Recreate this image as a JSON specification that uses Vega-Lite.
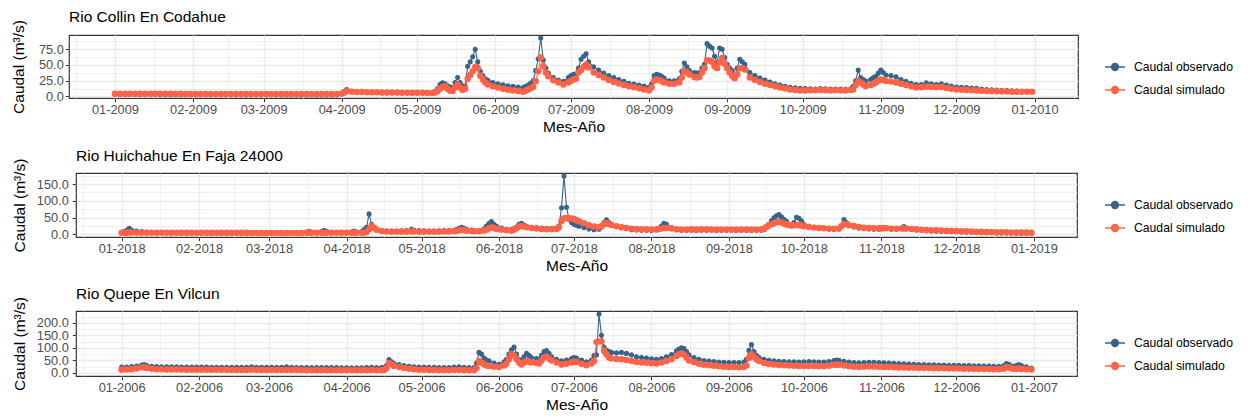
{
"$schema":"https://vega.github.io/schema/vega-lite/v6.json",
"background":"white",
"padding":{"left":4,"top":9,"right":0,"bottom":0},
"config":{
"font":"Liberation Sans",
"view":{"stroke":"#333333","strokeWidth":1.2},
"title":{"anchor":"start","frame":"group","fontSize":15.5,"fontWeight":"normal","color":"black","offset":-6},
"axis":{"domain":false,"labelFontSize":12.8,"labelColor":"#4D4D4D","tickColor":"#333333","tickSize":3.7,"tickWidth":1,"labelPadding":2,"gridColor":"#EBEBEB","titleFontSize":15.5,"titleFontWeight":"normal","titleColor":"black","labelOverlap":false,"labelFlush":false,"labelBound":false},
"legend":{"orient":"none","title":null,"labelFontSize":12.2,"labelColor":"black","symbolSize":400,"symbolStrokeWidth":1.3,"labelOffset":8,"rowPadding":5,"symbolType":"M-1,0H1M0.35,0A0.35,0.35,0,1,1,-0.35,0A0.35,0.35,0,1,1,0.35,0Z"},
"concat":{"spacing":11}
},
"datasets":{
"collin":[
{"t":"2009-01-01","obs":3.2,"sim":4.3},{"t":"2009-01-03","obs":3.1,"sim":4.3},{"t":"2009-01-05","obs":3.0,"sim":4.2},{"t":"2009-01-07","obs":3.0,"sim":4.2},{"t":"2009-01-09","obs":2.9,"sim":4.2},{"t":"2009-01-11","obs":2.9,"sim":4.1},{"t":"2009-01-13","obs":2.8,"sim":4.1},{"t":"2009-01-15","obs":2.8,"sim":4.1},{"t":"2009-01-17","obs":2.8,"sim":4.1},{"t":"2009-01-19","obs":2.7,"sim":4.0},{"t":"2009-01-21","obs":2.7,"sim":4.0},{"t":"2009-01-23","obs":2.7,"sim":4.0},{"t":"2009-01-25","obs":2.6,"sim":4.0},{"t":"2009-01-27","obs":2.6,"sim":4.0},{"t":"2009-01-29","obs":2.6,"sim":3.9},{"t":"2009-01-31","obs":2.6,"sim":3.9},
{"t":"2009-02-02","obs":2.6,"sim":3.9},{"t":"2009-02-04","obs":2.6,"sim":3.9},{"t":"2009-02-06","obs":2.5,"sim":3.9},{"t":"2009-02-08","obs":2.5,"sim":3.9},{"t":"2009-02-10","obs":2.5,"sim":3.9},{"t":"2009-02-12","obs":2.5,"sim":3.8},{"t":"2009-02-14","obs":2.5,"sim":3.8},{"t":"2009-02-16","obs":2.5,"sim":3.8},{"t":"2009-02-18","obs":2.4,"sim":3.8},{"t":"2009-02-20","obs":2.4,"sim":3.8},{"t":"2009-02-22","obs":2.4,"sim":3.8},{"t":"2009-02-24","obs":2.4,"sim":3.8},{"t":"2009-02-26","obs":2.4,"sim":3.8},{"t":"2009-02-28","obs":2.4,"sim":3.8},
{"t":"2009-03-02","obs":2.4,"sim":3.8},{"t":"2009-03-04","obs":2.4,"sim":3.8},{"t":"2009-03-06","obs":2.4,"sim":3.7},{"t":"2009-03-08","obs":2.4,"sim":3.7},{"t":"2009-03-10","obs":2.3,"sim":3.7},{"t":"2009-03-12","obs":2.3,"sim":3.7},{"t":"2009-03-14","obs":2.3,"sim":3.7},{"t":"2009-03-16","obs":2.3,"sim":3.7},{"t":"2009-03-18","obs":2.3,"sim":3.7},{"t":"2009-03-20","obs":2.3,"sim":3.7},{"t":"2009-03-22","obs":2.3,"sim":3.7},{"t":"2009-03-24","obs":2.3,"sim":3.7},{"t":"2009-03-26","obs":2.3,"sim":3.7},{"t":"2009-03-28","obs":2.3,"sim":3.7},{"t":"2009-03-30","obs":2.4,"sim":3.8},
{"t":"2009-04-01","obs":4,"sim":4.5},{"t":"2009-04-02","obs":8,"sim":6},{"t":"2009-04-03","obs":11,"sim":8},{"t":"2009-04-05","obs":8,"sim":7.5},{"t":"2009-04-07","obs":7,"sim":7},{"t":"2009-04-09","obs":6.8,"sim":6.8},{"t":"2009-04-11","obs":6.5,"sim":6.6},{"t":"2009-04-13","obs":6.3,"sim":6.5},{"t":"2009-04-15","obs":6.1,"sim":6.4},{"t":"2009-04-17","obs":6,"sim":6.3},{"t":"2009-04-19","obs":5.9,"sim":6.2},{"t":"2009-04-21","obs":5.8,"sim":6.1},{"t":"2009-04-23","obs":5.7,"sim":6},{"t":"2009-04-25","obs":5.6,"sim":5.9},{"t":"2009-04-27","obs":5.6,"sim":5.8},{"t":"2009-04-29","obs":5.5,"sim":5.8},
{"t":"2009-05-01","obs":5.5,"sim":5.7},{"t":"2009-05-03","obs":5.4,"sim":5.6},{"t":"2009-05-05","obs":5.3,"sim":5.5},{"t":"2009-05-07","obs":5.2,"sim":5.5},{"t":"2009-05-08","obs":8,"sim":6},{"t":"2009-05-09","obs":12,"sim":8},{"t":"2009-05-10","obs":19,"sim":12},{"t":"2009-05-11","obs":21.7,"sim":15},{"t":"2009-05-12","obs":20,"sim":16},{"t":"2009-05-13","obs":17,"sim":12},{"t":"2009-05-14","obs":15,"sim":9},{"t":"2009-05-15","obs":14,"sim":8.5},{"t":"2009-05-16","obs":22,"sim":14},{"t":"2009-05-17","obs":30,"sim":19},{"t":"2009-05-18","obs":22,"sim":14},{"t":"2009-05-19","obs":17,"sim":10},{"t":"2009-05-20","obs":16,"sim":12},{"t":"2009-05-21","obs":48,"sim":28},{"t":"2009-05-22","obs":55,"sim":34},{"t":"2009-05-23","obs":63,"sim":40},{"t":"2009-05-24","obs":75,"sim":47},{"t":"2009-05-25","obs":55,"sim":45},{"t":"2009-05-26","obs":40,"sim":33},{"t":"2009-05-27","obs":33,"sim":27},{"t":"2009-05-28","obs":28,"sim":22},{"t":"2009-05-29","obs":25.5,"sim":19},{"t":"2009-05-31","obs":22,"sim":16},
{"t":"2009-06-02","obs":20,"sim":14},{"t":"2009-06-04","obs":18.5,"sim":12},{"t":"2009-06-06","obs":17,"sim":10.5},{"t":"2009-06-08","obs":16,"sim":9.5},{"t":"2009-06-10","obs":15,"sim":8.5},{"t":"2009-06-12","obs":14,"sim":7.5},{"t":"2009-06-13","obs":16,"sim":9},{"t":"2009-06-14","obs":18,"sim":11},{"t":"2009-06-15","obs":21,"sim":13},{"t":"2009-06-16","obs":25,"sim":15},{"t":"2009-06-17","obs":41,"sim":24},{"t":"2009-06-18","obs":60,"sim":40},{"t":"2009-06-19","obs":93,"sim":62},{"t":"2009-06-20","obs":58,"sim":48},{"t":"2009-06-21","obs":45,"sim":38},{"t":"2009-06-22","obs":37,"sim":32},{"t":"2009-06-24","obs":30,"sim":25.5},{"t":"2009-06-26","obs":26,"sim":22},{"t":"2009-06-28","obs":24,"sim":19},{"t":"2009-06-30","obs":30,"sim":22},
{"t":"2009-07-01","obs":33,"sim":25},{"t":"2009-07-02","obs":35,"sim":27},{"t":"2009-07-03","obs":36,"sim":28},{"t":"2009-07-04","obs":45,"sim":38},{"t":"2009-07-05","obs":59,"sim":42},{"t":"2009-07-06","obs":64,"sim":47},{"t":"2009-07-07","obs":68,"sim":51},{"t":"2009-07-08","obs":55,"sim":46},{"t":"2009-07-10","obs":47,"sim":38},{"t":"2009-07-12","obs":42,"sim":34},{"t":"2009-07-14","obs":37,"sim":30},{"t":"2009-07-16","obs":33,"sim":26},{"t":"2009-07-18","obs":30,"sim":23},{"t":"2009-07-20","obs":27,"sim":20.5},{"t":"2009-07-22","obs":24,"sim":18},{"t":"2009-07-24","obs":21,"sim":16},{"t":"2009-07-26","obs":19.5,"sim":14.5},{"t":"2009-07-28","obs":18,"sim":13},{"t":"2009-07-30","obs":16.5,"sim":11},
{"t":"2009-08-01","obs":15,"sim":9.5},{"t":"2009-08-02","obs":20,"sim":14},{"t":"2009-08-03","obs":33,"sim":25},{"t":"2009-08-04","obs":35,"sim":27},{"t":"2009-08-05","obs":34,"sim":26},{"t":"2009-08-06","obs":32,"sim":24},{"t":"2009-08-07","obs":29,"sim":22},{"t":"2009-08-09","obs":25,"sim":20},{"t":"2009-08-11","obs":25,"sim":20},{"t":"2009-08-13","obs":28,"sim":22},{"t":"2009-08-14","obs":40,"sim":30},{"t":"2009-08-15","obs":53,"sim":40},{"t":"2009-08-16","obs":47,"sim":38},{"t":"2009-08-17","obs":41,"sim":35},{"t":"2009-08-19","obs":38,"sim":31},{"t":"2009-08-20","obs":37,"sim":30},{"t":"2009-08-21","obs":38,"sim":31},{"t":"2009-08-22","obs":45,"sim":38},{"t":"2009-08-23","obs":51,"sim":45},{"t":"2009-08-24","obs":84,"sim":57},{"t":"2009-08-25","obs":80,"sim":57},{"t":"2009-08-26","obs":77,"sim":55},{"t":"2009-08-27","obs":64,"sim":48},{"t":"2009-08-28","obs":54,"sim":45},{"t":"2009-08-29","obs":77,"sim":54},{"t":"2009-08-30","obs":75,"sim":61},{"t":"2009-08-31","obs":62,"sim":52},
{"t":"2009-09-01","obs":51,"sim":45},{"t":"2009-09-02","obs":45,"sim":38},{"t":"2009-09-03","obs":41,"sim":32},{"t":"2009-09-04","obs":33,"sim":29},{"t":"2009-09-05","obs":45,"sim":35},{"t":"2009-09-06","obs":59,"sim":45},{"t":"2009-09-07","obs":55,"sim":45},{"t":"2009-09-08","obs":51,"sim":43},{"t":"2009-09-10","obs":38,"sim":30},{"t":"2009-09-12","obs":33,"sim":26},{"t":"2009-09-14","obs":29,"sim":23},{"t":"2009-09-16","obs":26,"sim":20},{"t":"2009-09-18","obs":23,"sim":18},{"t":"2009-09-20","obs":20,"sim":16},{"t":"2009-09-22","obs":18,"sim":14},{"t":"2009-09-24","obs":16,"sim":12.5},{"t":"2009-09-26","obs":14.5,"sim":11},{"t":"2009-09-28","obs":13.5,"sim":10},{"t":"2009-09-30","obs":12.7,"sim":9.5},
{"t":"2009-10-02","obs":12.3,"sim":9.5},{"t":"2009-10-04","obs":12,"sim":9.8},{"t":"2009-10-06","obs":11.8,"sim":9.6},{"t":"2009-10-08","obs":12.5,"sim":10},{"t":"2009-10-10","obs":12,"sim":9.7},{"t":"2009-10-12","obs":11.5,"sim":9.4},{"t":"2009-10-14","obs":11.8,"sim":9.6},{"t":"2009-10-16","obs":11.5,"sim":9.5},{"t":"2009-10-18","obs":11.2,"sim":9.3},{"t":"2009-10-20","obs":12,"sim":10},{"t":"2009-10-21","obs":16,"sim":11},{"t":"2009-10-22","obs":25,"sim":18},{"t":"2009-10-23","obs":42,"sim":24},{"t":"2009-10-24","obs":30,"sim":22},{"t":"2009-10-25","obs":27,"sim":19},{"t":"2009-10-26","obs":24.4,"sim":16},{"t":"2009-10-28","obs":27,"sim":18},{"t":"2009-10-29","obs":30,"sim":20},{"t":"2009-10-30","obs":32,"sim":22},{"t":"2009-10-31","obs":37,"sim":25},
{"t":"2009-11-01","obs":42,"sim":27},{"t":"2009-11-02","obs":38,"sim":26},{"t":"2009-11-03","obs":34,"sim":24.4},{"t":"2009-11-05","obs":33,"sim":23.5},{"t":"2009-11-07","obs":31,"sim":22},{"t":"2009-11-09","obs":27,"sim":20},{"t":"2009-11-11","obs":24,"sim":18},{"t":"2009-11-13","obs":21,"sim":16},{"t":"2009-11-15","obs":19,"sim":14},{"t":"2009-11-17","obs":19,"sim":14.5},{"t":"2009-11-19","obs":21.7,"sim":15.5},{"t":"2009-11-21","obs":20,"sim":15},{"t":"2009-11-23","obs":19,"sim":14.5},{"t":"2009-11-25","obs":20,"sim":15},{"t":"2009-11-27","obs":18,"sim":13.5},{"t":"2009-11-29","obs":16.5,"sim":12},
{"t":"2009-12-01","obs":15,"sim":11},{"t":"2009-12-03","obs":14.5,"sim":10.5},{"t":"2009-12-05","obs":14,"sim":10},{"t":"2009-12-07","obs":13.3,"sim":9.7},{"t":"2009-12-09","obs":12.7,"sim":9.3},{"t":"2009-12-11","obs":11.5,"sim":8.8},{"t":"2009-12-13","obs":11,"sim":8.5},{"t":"2009-12-15","obs":10.5,"sim":8.3},{"t":"2009-12-17","obs":10,"sim":8},{"t":"2009-12-19","obs":9.5,"sim":7.8},{"t":"2009-12-21","obs":9.2,"sim":7.6},{"t":"2009-12-23","obs":8.8,"sim":7.5},{"t":"2009-12-25","obs":8.5,"sim":7.3},{"t":"2009-12-27","obs":8,"sim":7.4},{"t":"2009-12-29","obs":7.6,"sim":7.3},{"t":"2009-12-31","obs":7.4,"sim":7.4}
],
"huich":[
{"t":"2018-01-01","obs":3,"sim":4.8},{"t":"2018-01-02","obs":8,"sim":5},{"t":"2018-01-03","obs":12,"sim":5},{"t":"2018-01-04","obs":18,"sim":5.5},{"t":"2018-01-05","obs":13,"sim":5.2},{"t":"2018-01-07","obs":10,"sim":5},{"t":"2018-01-09","obs":8,"sim":4.9},{"t":"2018-01-11","obs":6.5,"sim":4.8},{"t":"2018-01-13","obs":5.5,"sim":4.7},{"t":"2018-01-15","obs":5,"sim":4.7},{"t":"2018-01-17","obs":4.6,"sim":4.6},{"t":"2018-01-19","obs":4.4,"sim":4.6},{"t":"2018-01-21","obs":4.2,"sim":4.6},{"t":"2018-01-23","obs":4,"sim":4.5},{"t":"2018-01-25","obs":3.9,"sim":4.5},{"t":"2018-01-27","obs":3.8,"sim":4.5},{"t":"2018-01-29","obs":3.7,"sim":4.5},{"t":"2018-01-31","obs":3.6,"sim":4.5},
{"t":"2018-02-02","obs":3.5,"sim":4.5},{"t":"2018-02-04","obs":3.5,"sim":4.5},{"t":"2018-02-06","obs":3.4,"sim":4.5},{"t":"2018-02-08","obs":3.4,"sim":4.4},{"t":"2018-02-10","obs":3.3,"sim":4.4},{"t":"2018-02-12","obs":3.3,"sim":4.4},{"t":"2018-02-14","obs":3.2,"sim":4.4},{"t":"2018-02-16","obs":3.2,"sim":4.4},{"t":"2018-02-18","obs":3.1,"sim":4.4},{"t":"2018-02-20","obs":3.1,"sim":4.4},{"t":"2018-02-22","obs":3.1,"sim":4.3},{"t":"2018-02-24","obs":3,"sim":4.3},{"t":"2018-02-26","obs":3,"sim":4.3},{"t":"2018-02-28","obs":3,"sim":4.3},
{"t":"2018-03-02","obs":3,"sim":4.3},{"t":"2018-03-04","obs":3,"sim":4.3},{"t":"2018-03-06","obs":2.9,"sim":4.3},{"t":"2018-03-08","obs":2.9,"sim":4.3},{"t":"2018-03-10","obs":2.9,"sim":4.3},{"t":"2018-03-12","obs":3,"sim":4.3},{"t":"2018-03-14","obs":3.5,"sim":4.3},{"t":"2018-03-16","obs":6,"sim":4.4},{"t":"2018-03-17","obs":9,"sim":4.5},{"t":"2018-03-18","obs":6,"sim":4.5},{"t":"2018-03-20","obs":5,"sim":4.4},{"t":"2018-03-22","obs":8,"sim":4.5},{"t":"2018-03-23","obs":12,"sim":4.7},{"t":"2018-03-24","obs":9,"sim":4.6},{"t":"2018-03-26","obs":6,"sim":4.5},{"t":"2018-03-28","obs":5,"sim":4.5},{"t":"2018-03-30","obs":4.5,"sim":4.5},
{"t":"2018-04-01","obs":4.5,"sim":4.5},{"t":"2018-04-03","obs":7,"sim":4.6},{"t":"2018-04-04","obs":10,"sim":4.8},{"t":"2018-04-05","obs":7,"sim":4.7},{"t":"2018-04-07","obs":8,"sim":4.8},{"t":"2018-04-08","obs":14,"sim":5},{"t":"2018-04-09","obs":21,"sim":7},{"t":"2018-04-10","obs":61,"sim":15},{"t":"2018-04-11","obs":30,"sim":25},{"t":"2018-04-12","obs":18,"sim":20},{"t":"2018-04-13","obs":13,"sim":14},{"t":"2018-04-15","obs":11,"sim":10},{"t":"2018-04-17","obs":10,"sim":8.5},{"t":"2018-04-19","obs":10,"sim":8},{"t":"2018-04-21","obs":10,"sim":8},{"t":"2018-04-23","obs":10.5,"sim":8},{"t":"2018-04-25","obs":11,"sim":8},{"t":"2018-04-27","obs":15,"sim":8.5},{"t":"2018-04-28","obs":12,"sim":8.5},{"t":"2018-04-30","obs":11,"sim":8},
{"t":"2018-05-02","obs":10.5,"sim":8},{"t":"2018-05-04","obs":10,"sim":8},{"t":"2018-05-06","obs":10,"sim":8},{"t":"2018-05-08","obs":10.5,"sim":8},{"t":"2018-05-10","obs":11,"sim":8.5},{"t":"2018-05-12","obs":11,"sim":8.5},{"t":"2018-05-14","obs":12,"sim":9},{"t":"2018-05-15","obs":14,"sim":10},{"t":"2018-05-16","obs":18,"sim":12},{"t":"2018-05-17","obs":21,"sim":13},{"t":"2018-05-18","obs":18,"sim":12.5},{"t":"2018-05-19","obs":15,"sim":11},{"t":"2018-05-21","obs":13,"sim":10},{"t":"2018-05-22","obs":12,"sim":9},{"t":"2018-05-24","obs":12,"sim":9.5},{"t":"2018-05-26","obs":16,"sim":11},{"t":"2018-05-27","obs":25,"sim":14},{"t":"2018-05-28","obs":33,"sim":18},{"t":"2018-05-29","obs":38,"sim":21},{"t":"2018-05-30","obs":30,"sim":19},{"t":"2018-05-31","obs":24,"sim":16},
{"t":"2018-06-02","obs":19,"sim":14},{"t":"2018-06-04","obs":15,"sim":12},{"t":"2018-06-06","obs":15,"sim":11},{"t":"2018-06-07","obs":17,"sim":14},{"t":"2018-06-08","obs":22,"sim":18},{"t":"2018-06-09","obs":30,"sim":23},{"t":"2018-06-10","obs":33,"sim":25},{"t":"2018-06-11","obs":28,"sim":23},{"t":"2018-06-12","obs":24,"sim":21},{"t":"2018-06-14","obs":21,"sim":19},{"t":"2018-06-16","obs":20,"sim":17},{"t":"2018-06-18","obs":19,"sim":16},{"t":"2018-06-20","obs":18,"sim":15},{"t":"2018-06-22","obs":18,"sim":15},{"t":"2018-06-24","obs":19,"sim":16},{"t":"2018-06-25","obs":25,"sim":21},{"t":"2018-06-26","obs":79,"sim":40},{"t":"2018-06-27","obs":174,"sim":48},{"t":"2018-06-28","obs":81,"sim":48},{"t":"2018-06-29","obs":45,"sim":48},{"t":"2018-06-30","obs":35,"sim":47},
{"t":"2018-07-01","obs":30,"sim":46},{"t":"2018-07-02","obs":27,"sim":42},{"t":"2018-07-03","obs":24,"sim":39},{"t":"2018-07-05","obs":20,"sim":33},{"t":"2018-07-07","obs":16,"sim":27},{"t":"2018-07-09","obs":14,"sim":23},{"t":"2018-07-11","obs":15,"sim":21},{"t":"2018-07-12","obs":22,"sim":24},{"t":"2018-07-13","obs":35,"sim":30},{"t":"2018-07-14","obs":43,"sim":34},{"t":"2018-07-15","obs":35,"sim":31},{"t":"2018-07-16","obs":28,"sim":28},{"t":"2018-07-18","obs":24,"sim":24},{"t":"2018-07-20","obs":20,"sim":21},{"t":"2018-07-22","obs":17,"sim":19},{"t":"2018-07-24","obs":14,"sim":17},{"t":"2018-07-26","obs":13,"sim":16},{"t":"2018-07-28","obs":12,"sim":15},{"t":"2018-07-30","obs":12,"sim":15},
{"t":"2018-08-01","obs":11.5,"sim":14.5},{"t":"2018-08-03","obs":13,"sim":15},{"t":"2018-08-04","obs":18,"sim":16},{"t":"2018-08-05","obs":25,"sim":17},{"t":"2018-08-06","obs":33,"sim":19},{"t":"2018-08-07","obs":30,"sim":19},{"t":"2018-08-09","obs":20,"sim":17},{"t":"2018-08-11","obs":14,"sim":15},{"t":"2018-08-13","obs":12,"sim":14.5},{"t":"2018-08-15","obs":12,"sim":14.5},{"t":"2018-08-17","obs":12,"sim":15},{"t":"2018-08-19","obs":11.5,"sim":14.5},{"t":"2018-08-21","obs":12,"sim":14.8},{"t":"2018-08-23","obs":12.5,"sim":15},{"t":"2018-08-25","obs":12,"sim":14.6},{"t":"2018-08-27","obs":11.5,"sim":14.5},{"t":"2018-08-29","obs":12,"sim":14.7},{"t":"2018-08-31","obs":12,"sim":14.5},
{"t":"2018-09-02","obs":12,"sim":14.5},{"t":"2018-09-04","obs":11.5,"sim":14.4},{"t":"2018-09-06","obs":12,"sim":14.6},{"t":"2018-09-08","obs":11.8,"sim":14.5},{"t":"2018-09-10","obs":11.5,"sim":14.4},{"t":"2018-09-12","obs":11.8,"sim":14.5},{"t":"2018-09-14","obs":12,"sim":15},{"t":"2018-09-15","obs":14,"sim":17},{"t":"2018-09-16","obs":20,"sim":22},{"t":"2018-09-17","obs":30,"sim":26},{"t":"2018-09-18","obs":40,"sim":30},{"t":"2018-09-19","obs":49,"sim":33},{"t":"2018-09-20","obs":55,"sim":36},{"t":"2018-09-21","obs":59,"sim":37},{"t":"2018-09-22","obs":52,"sim":35},{"t":"2018-09-23","obs":45,"sim":32},{"t":"2018-09-24","obs":39,"sim":29},{"t":"2018-09-25","obs":30,"sim":28},{"t":"2018-09-26","obs":25,"sim":27},{"t":"2018-09-27","obs":35,"sim":27},{"t":"2018-09-28","obs":51,"sim":28},{"t":"2018-09-29","obs":48,"sim":27},{"t":"2018-09-30","obs":40,"sim":26},
{"t":"2018-10-01","obs":29,"sim":24},{"t":"2018-10-03","obs":24,"sim":22},{"t":"2018-10-05","obs":21,"sim":20},{"t":"2018-10-07","obs":19,"sim":19},{"t":"2018-10-09","obs":17,"sim":18},{"t":"2018-10-11","obs":16,"sim":17},{"t":"2018-10-13","obs":15,"sim":16.5},{"t":"2018-10-15","obs":16,"sim":17},{"t":"2018-10-16","obs":25,"sim":24},{"t":"2018-10-17","obs":44,"sim":31},{"t":"2018-10-18","obs":35,"sim":30},{"t":"2018-10-19","obs":27,"sim":27},{"t":"2018-10-21","obs":22,"sim":25},{"t":"2018-10-23","obs":19,"sim":22},{"t":"2018-10-25","obs":17,"sim":20},{"t":"2018-10-27","obs":16,"sim":19},{"t":"2018-10-29","obs":15,"sim":18.5},{"t":"2018-10-31","obs":15,"sim":18},
{"t":"2018-11-01","obs":17,"sim":18},{"t":"2018-11-02","obs":21,"sim":18},{"t":"2018-11-03","obs":18,"sim":18},{"t":"2018-11-05","obs":15,"sim":17},{"t":"2018-11-07","obs":15,"sim":17},{"t":"2018-11-09","obs":18,"sim":17},{"t":"2018-11-10","obs":23,"sim":17.5},{"t":"2018-11-11","obs":19,"sim":17},{"t":"2018-11-13","obs":15,"sim":16},{"t":"2018-11-15","obs":13,"sim":15},{"t":"2018-11-17","obs":12,"sim":14},{"t":"2018-11-19","obs":11,"sim":13},{"t":"2018-11-21","obs":10,"sim":12.5},{"t":"2018-11-23","obs":9.5,"sim":12},{"t":"2018-11-25","obs":9,"sim":11.5},{"t":"2018-11-27","obs":8.5,"sim":11},{"t":"2018-11-29","obs":8,"sim":10.5},
{"t":"2018-12-01","obs":7.5,"sim":10},{"t":"2018-12-03","obs":7,"sim":9.5},{"t":"2018-12-05","obs":6.5,"sim":9},{"t":"2018-12-07","obs":6,"sim":8.5},{"t":"2018-12-09","obs":5.5,"sim":8},{"t":"2018-12-11","obs":5,"sim":7.5},{"t":"2018-12-13","obs":4.8,"sim":7},{"t":"2018-12-15","obs":4.5,"sim":6.8},{"t":"2018-12-17","obs":4.2,"sim":6.5},{"t":"2018-12-19","obs":4,"sim":6.2},{"t":"2018-12-21","obs":3.8,"sim":6},{"t":"2018-12-23","obs":3.6,"sim":5.8},{"t":"2018-12-25","obs":3.4,"sim":5.5},{"t":"2018-12-27","obs":3.2,"sim":5.3},{"t":"2018-12-29","obs":3.1,"sim":5.1},{"t":"2018-12-31","obs":3,"sim":5}
],
"quepe":[
{"t":"2006-01-01","obs":24,"sim":13},{"t":"2006-01-03","obs":24,"sim":14},{"t":"2006-01-05","obs":26,"sim":15},{"t":"2006-01-07","obs":28,"sim":18},{"t":"2006-01-09","obs":32,"sim":22},{"t":"2006-01-10","obs":34,"sim":24},{"t":"2006-01-11","obs":30,"sim":20},{"t":"2006-01-13","obs":27,"sim":17},{"t":"2006-01-15","obs":26,"sim":15},{"t":"2006-01-17","obs":25,"sim":14.5},{"t":"2006-01-19","obs":25,"sim":14},{"t":"2006-01-21","obs":24.5,"sim":14},{"t":"2006-01-23","obs":24.5,"sim":13.5},{"t":"2006-01-25","obs":24,"sim":13.5},{"t":"2006-01-27","obs":24,"sim":13},{"t":"2006-01-29","obs":24,"sim":13},{"t":"2006-01-31","obs":23.5,"sim":13},
{"t":"2006-02-02","obs":23.5,"sim":13},{"t":"2006-02-04","obs":23.5,"sim":12.8},{"t":"2006-02-06","obs":23,"sim":12.8},{"t":"2006-02-08","obs":23,"sim":12.6},{"t":"2006-02-10","obs":23,"sim":12.5},{"t":"2006-02-12","obs":23,"sim":12.5},{"t":"2006-02-14","obs":22.8,"sim":12.4},{"t":"2006-02-16","obs":22.8,"sim":12.3},{"t":"2006-02-18","obs":22.5,"sim":12.2},{"t":"2006-02-20","obs":22.5,"sim":12.2},{"t":"2006-02-22","obs":24.5,"sim":12.5},{"t":"2006-02-24","obs":23,"sim":12.2},{"t":"2006-02-26","obs":22.5,"sim":12},{"t":"2006-02-28","obs":22.5,"sim":12},
{"t":"2006-03-02","obs":22.3,"sim":11.8},{"t":"2006-03-04","obs":22.2,"sim":11.8},{"t":"2006-03-06","obs":23,"sim":11.8},{"t":"2006-03-08","obs":24.5,"sim":12},{"t":"2006-03-10","obs":22.5,"sim":11.6},{"t":"2006-03-12","obs":22,"sim":11.5},{"t":"2006-03-14","obs":22,"sim":11.4},{"t":"2006-03-16","obs":21.8,"sim":11.3},{"t":"2006-03-18","obs":21.7,"sim":11.2},{"t":"2006-03-20","obs":21.6,"sim":11},{"t":"2006-03-22","obs":21.5,"sim":11},{"t":"2006-03-24","obs":21.4,"sim":10.9},{"t":"2006-03-26","obs":21.3,"sim":10.8},{"t":"2006-03-28","obs":21.2,"sim":10.8},{"t":"2006-03-30","obs":21.1,"sim":10.7},
{"t":"2006-04-01","obs":21,"sim":10.6},{"t":"2006-04-03","obs":21,"sim":10.6},{"t":"2006-04-05","obs":21,"sim":10.5},{"t":"2006-04-07","obs":21,"sim":10.5},{"t":"2006-04-09","obs":22,"sim":11},{"t":"2006-04-11","obs":23,"sim":12},{"t":"2006-04-13","obs":21.5,"sim":11},{"t":"2006-04-15","obs":21.5,"sim":11},{"t":"2006-04-16","obs":22,"sim":11.5},{"t":"2006-04-17","obs":30,"sim":20},{"t":"2006-04-18","obs":54,"sim":40},{"t":"2006-04-19","obs":45,"sim":35},{"t":"2006-04-20","obs":38,"sim":28},{"t":"2006-04-22","obs":34,"sim":24},{"t":"2006-04-24","obs":30,"sim":20},{"t":"2006-04-26","obs":27,"sim":17},{"t":"2006-04-28","obs":25,"sim":15},{"t":"2006-04-30","obs":24,"sim":13},
{"t":"2006-05-02","obs":23.5,"sim":12.5},{"t":"2006-05-04","obs":23,"sim":12},{"t":"2006-05-06","obs":22.5,"sim":11.5},{"t":"2006-05-08","obs":22,"sim":11},{"t":"2006-05-10","obs":22,"sim":11},{"t":"2006-05-12","obs":22,"sim":10.5},{"t":"2006-05-14","obs":24,"sim":11.5},{"t":"2006-05-16","obs":25,"sim":12},{"t":"2006-05-18","obs":23,"sim":11},{"t":"2006-05-20","obs":22,"sim":10.5},{"t":"2006-05-22","obs":21.5,"sim":10.5},{"t":"2006-05-23","obs":40,"sim":20},{"t":"2006-05-24","obs":82,"sim":48},{"t":"2006-05-25","obs":75,"sim":42},{"t":"2006-05-26","obs":60,"sim":35},{"t":"2006-05-27","obs":52,"sim":30},{"t":"2006-05-28","obs":49,"sim":28},{"t":"2006-05-30","obs":40,"sim":25},
{"t":"2006-06-01","obs":35,"sim":24},{"t":"2006-06-03","obs":45,"sim":30},{"t":"2006-06-04","obs":55,"sim":38},{"t":"2006-06-05","obs":75,"sim":55},{"t":"2006-06-06","obs":92,"sim":75},{"t":"2006-06-07","obs":103,"sim":70},{"t":"2006-06-08","obs":75,"sim":55},{"t":"2006-06-09","obs":55,"sim":42},{"t":"2006-06-10","obs":50,"sim":34},{"t":"2006-06-11","obs":65,"sim":42},{"t":"2006-06-12","obs":78,"sim":48},{"t":"2006-06-13","obs":70,"sim":45},{"t":"2006-06-14","obs":62,"sim":42},{"t":"2006-06-16","obs":58,"sim":40},{"t":"2006-06-17","obs":55,"sim":38},{"t":"2006-06-18","obs":70,"sim":50},{"t":"2006-06-19","obs":85,"sim":62},{"t":"2006-06-20","obs":89,"sim":65},{"t":"2006-06-21","obs":78,"sim":58},{"t":"2006-06-22","obs":65,"sim":50},{"t":"2006-06-24","obs":55,"sim":42},{"t":"2006-06-26","obs":49,"sim":34},{"t":"2006-06-28","obs":52,"sim":37},{"t":"2006-06-30","obs":58,"sim":42},
{"t":"2006-07-01","obs":62,"sim":45},{"t":"2006-07-02","obs":60,"sim":44},{"t":"2006-07-04","obs":52,"sim":37},{"t":"2006-07-06","obs":45,"sim":31},{"t":"2006-07-08","obs":52,"sim":38},{"t":"2006-07-09","obs":69,"sim":48},{"t":"2006-07-10","obs":72,"sim":123},{"t":"2006-07-11","obs":235,"sim":126},{"t":"2006-07-12","obs":150,"sim":126},{"t":"2006-07-13","obs":103,"sim":89},{"t":"2006-07-14","obs":90,"sim":75},{"t":"2006-07-15","obs":85,"sim":62},{"t":"2006-07-16","obs":82,"sim":58},{"t":"2006-07-18","obs":80,"sim":56},{"t":"2006-07-20","obs":82,"sim":55},{"t":"2006-07-22","obs":78,"sim":52},{"t":"2006-07-24","obs":72,"sim":48},{"t":"2006-07-26","obs":65,"sim":44},{"t":"2006-07-28","obs":62,"sim":42},{"t":"2006-07-30","obs":60,"sim":41},
{"t":"2006-08-01","obs":57,"sim":39},{"t":"2006-08-03","obs":55,"sim":38},{"t":"2006-08-05","obs":58,"sim":42},{"t":"2006-08-07","obs":65,"sim":48},{"t":"2006-08-09","obs":73,"sim":55},{"t":"2006-08-11","obs":88,"sim":68},{"t":"2006-08-12","obs":95,"sim":75},{"t":"2006-08-13","obs":100,"sim":78},{"t":"2006-08-14","obs":97,"sim":74},{"t":"2006-08-15","obs":85,"sim":62},{"t":"2006-08-16","obs":72,"sim":50},{"t":"2006-08-18","obs":62,"sim":43},{"t":"2006-08-20","obs":55,"sim":37},{"t":"2006-08-22","obs":50,"sim":33},{"t":"2006-08-24","obs":48,"sim":31},{"t":"2006-08-26","obs":46,"sim":29},{"t":"2006-08-28","obs":44,"sim":27},{"t":"2006-08-30","obs":43,"sim":25},
{"t":"2006-09-01","obs":42,"sim":24},{"t":"2006-09-03","obs":42,"sim":24},{"t":"2006-09-05","obs":42,"sim":23},{"t":"2006-09-07","obs":44,"sim":24},{"t":"2006-09-08","obs":55,"sim":30},{"t":"2006-09-09","obs":90,"sim":60},{"t":"2006-09-10","obs":113,"sim":75},{"t":"2006-09-11","obs":85,"sim":65},{"t":"2006-09-12","obs":70,"sim":55},{"t":"2006-09-13","obs":62,"sim":48},{"t":"2006-09-15","obs":55,"sim":40},{"t":"2006-09-17","obs":51,"sim":36},{"t":"2006-09-19","obs":49,"sim":34},{"t":"2006-09-21","obs":47,"sim":32},{"t":"2006-09-23","obs":46,"sim":31},{"t":"2006-09-25","obs":45,"sim":30},{"t":"2006-09-27","obs":45,"sim":29},{"t":"2006-09-29","obs":44,"sim":28},
{"t":"2006-10-01","obs":45,"sim":28},{"t":"2006-10-03","obs":46,"sim":28},{"t":"2006-10-05","obs":45,"sim":28},{"t":"2006-10-07","obs":44,"sim":27},{"t":"2006-10-09","obs":44,"sim":27},{"t":"2006-10-11","obs":46,"sim":29},{"t":"2006-10-13","obs":50,"sim":33},{"t":"2006-10-14","obs":52,"sim":34},{"t":"2006-10-15","obs":51,"sim":33},{"t":"2006-10-17","obs":47,"sim":30},{"t":"2006-10-19","obs":44,"sim":27},{"t":"2006-10-21","obs":42,"sim":25},{"t":"2006-10-23","obs":41,"sim":24},{"t":"2006-10-25","obs":42,"sim":25},{"t":"2006-10-27","obs":43,"sim":26},{"t":"2006-10-29","obs":43,"sim":26},{"t":"2006-10-31","obs":42,"sim":25},
{"t":"2006-11-02","obs":41,"sim":24},{"t":"2006-11-04","obs":40,"sim":23.5},{"t":"2006-11-06","obs":39,"sim":23},{"t":"2006-11-08","obs":38,"sim":22},{"t":"2006-11-10","obs":37,"sim":21.5},{"t":"2006-11-12","obs":36,"sim":21},{"t":"2006-11-14","obs":35,"sim":20.5},{"t":"2006-11-16","obs":34,"sim":20},{"t":"2006-11-18","obs":34,"sim":20},{"t":"2006-11-20","obs":33,"sim":19.5},{"t":"2006-11-22","obs":33,"sim":19},{"t":"2006-11-24","obs":32,"sim":19},{"t":"2006-11-26","obs":32,"sim":18.5},{"t":"2006-11-28","obs":31,"sim":18},{"t":"2006-11-30","obs":31,"sim":18},
{"t":"2006-12-02","obs":31,"sim":17.5},{"t":"2006-12-04","obs":30,"sim":17},{"t":"2006-12-06","obs":30,"sim":17},{"t":"2006-12-08","obs":29,"sim":16.5},{"t":"2006-12-10","obs":29,"sim":16},{"t":"2006-12-12","obs":28,"sim":16},{"t":"2006-12-14","obs":28,"sim":15.5},{"t":"2006-12-16","obs":27,"sim":15},{"t":"2006-12-18","obs":27,"sim":14.5},{"t":"2006-12-20","obs":30,"sim":17},{"t":"2006-12-21","obs":38,"sim":24},{"t":"2006-12-22","obs":35,"sim":22},{"t":"2006-12-23","obs":28,"sim":18},{"t":"2006-12-24","obs":27,"sim":17},{"t":"2006-12-25","obs":30,"sim":17},{"t":"2006-12-26","obs":34,"sim":18},{"t":"2006-12-27","obs":30,"sim":16},{"t":"2006-12-29","obs":25,"sim":15},{"t":"2006-12-31","obs":20,"sim":14}
]
},
"vconcat":[
{"spacing":0,"hconcat":[
{"width":1,"height":1,"data":{"values":[{"a":1}]},"mark":{"type":"point","opacity":0},"view":{"stroke":null}},
{
"width":1009,"height":63,
"title":{"text":"Rio Collin En Codahue"},
"data":{"name":"collin"},
"transform":[{"fold":["obs","sim"],"as":["serie","valor"]}],
"encoding":{
"x":{"field":"t","type":"temporal","title":"Mes-Año",
"scale":{"type":"utc","domain":[{"year":2008,"month":12,"date":13,"hours":18,"utc":true},{"year":2010,"month":1,"date":18,"hours":6,"utc":true}]},
"axis":{"values":[{"year":2008,"month":12,"date":16,"hours":12,"utc":true},{"year":2009,"month":1,"date":1,"utc":true},{"year":2009,"month":1,"date":16,"hours":12,"utc":true},{"year":2009,"month":2,"date":1,"utc":true},{"year":2009,"month":2,"date":15,"utc":true},{"year":2009,"month":3,"date":1,"utc":true},{"year":2009,"month":3,"date":16,"hours":12,"utc":true},{"year":2009,"month":4,"date":1,"utc":true},{"year":2009,"month":4,"date":16,"utc":true},{"year":2009,"month":5,"date":1,"utc":true},{"year":2009,"month":5,"date":16,"hours":12,"utc":true},{"year":2009,"month":6,"date":1,"utc":true},{"year":2009,"month":6,"date":16,"utc":true},{"year":2009,"month":7,"date":1,"utc":true},{"year":2009,"month":7,"date":16,"hours":12,"utc":true},{"year":2009,"month":8,"date":1,"utc":true},{"year":2009,"month":8,"date":16,"hours":12,"utc":true},{"year":2009,"month":9,"date":1,"utc":true},{"year":2009,"month":9,"date":16,"utc":true},{"year":2009,"month":10,"date":1,"utc":true},{"year":2009,"month":10,"date":16,"hours":12,"utc":true},{"year":2009,"month":11,"date":1,"utc":true},{"year":2009,"month":11,"date":16,"utc":true},{"year":2009,"month":12,"date":1,"utc":true},{"year":2009,"month":12,"date":16,"hours":12,"utc":true},{"year":2010,"month":1,"date":1,"utc":true},{"year":2010,"month":1,"date":16,"hours":12,"utc":true}],
"labelExpr":"utcdate(datum.value) == 1 ? utcFormat(datum.value, '%m-%Y') : ''",
"tickOpacity":{"condition":{"test":"utcdate(datum.value) == 1","value":1},"value":0},
"gridWidth":{"condition":{"test":"utcdate(datum.value) == 1","value":1.5},"value":0.75},
"titlePadding":3}},
"y":{"field":"valor","type":"quantitative","title":"Caudal (m³/s)",
"scale":{"domain":[-2.6,97.8],"nice":false,"zero":false},
"axis":{"values":[0,12.5,25,37.5,50,62.5,75,87.5],
"labelExpr":"datum.value % 25 == 0 ? format(datum.value, '.1f') : ''",
"tickOpacity":{"condition":{"test":"datum.value % 25 == 0","value":1},"value":0},
"gridWidth":{"condition":{"test":"datum.value % 25 == 0","value":1.5},"value":0.75},
"labelPadding":2,"titlePadding":11.5}},
"color":{"field":"serie","type":"nominal","scale":{"domain":["obs","sim"],"range":["#36648B","#FF6347"]},
"legend":{"legendX":1097,"legendY":21,"labelExpr":"datum.value == 'obs' ? 'Caudal observado' : 'Caudal simulado'",
"encode":{"symbols":{"update":{"fill":{"signal":"datum.value == 'obs' ? '#36648B' : '#FF6347'"},"stroke":{"signal":"datum.value == 'obs' ? '#36648B' : '#FF6347'"},"opacity":{"value":1}}}}}}
},
"layer":[
{"transform":[{"filter":"datum.serie == 'obs'"}],"mark":{"type":"line","strokeWidth":1.1}},
{"transform":[{"filter":"datum.serie == 'obs'"}],"mark":{"type":"point","filled":true,"opacity":1,"size":26}},
{"transform":[{"filter":"datum.serie == 'sim'"}],"mark":{"type":"line","strokeWidth":1.1}},
{"transform":[{"filter":"datum.serie == 'sim'"}],"mark":{"type":"point","filled":true,"opacity":1,"size":42}}
]
}
]},
{"spacing":0,"hconcat":[
{"width":1,"height":1,"data":{"values":[{"a":1}]},"mark":{"type":"point","opacity":0},"view":{"stroke":null}},
{
"width":1001,"height":64,
"title":{"text":"Rio Huichahue En Faja 24000"},
"data":{"name":"huich"},
"transform":[{"fold":["obs","sim"],"as":["serie","valor"]}],
"encoding":{
"x":{"field":"t","type":"temporal","title":"Mes-Año",
"scale":{"type":"utc","domain":[{"year":2017,"month":12,"date":13,"hours":18,"utc":true},{"year":2019,"month":1,"date":18,"hours":6,"utc":true}]},
"axis":{"values":[{"year":2017,"month":12,"date":16,"hours":12,"utc":true},{"year":2018,"month":1,"date":1,"utc":true},{"year":2018,"month":1,"date":16,"hours":12,"utc":true},{"year":2018,"month":2,"date":1,"utc":true},{"year":2018,"month":2,"date":15,"utc":true},{"year":2018,"month":3,"date":1,"utc":true},{"year":2018,"month":3,"date":16,"hours":12,"utc":true},{"year":2018,"month":4,"date":1,"utc":true},{"year":2018,"month":4,"date":16,"utc":true},{"year":2018,"month":5,"date":1,"utc":true},{"year":2018,"month":5,"date":16,"hours":12,"utc":true},{"year":2018,"month":6,"date":1,"utc":true},{"year":2018,"month":6,"date":16,"utc":true},{"year":2018,"month":7,"date":1,"utc":true},{"year":2018,"month":7,"date":16,"hours":12,"utc":true},{"year":2018,"month":8,"date":1,"utc":true},{"year":2018,"month":8,"date":16,"hours":12,"utc":true},{"year":2018,"month":9,"date":1,"utc":true},{"year":2018,"month":9,"date":16,"utc":true},{"year":2018,"month":10,"date":1,"utc":true},{"year":2018,"month":10,"date":16,"hours":12,"utc":true},{"year":2018,"month":11,"date":1,"utc":true},{"year":2018,"month":11,"date":16,"utc":true},{"year":2018,"month":12,"date":1,"utc":true},{"year":2018,"month":12,"date":16,"hours":12,"utc":true},{"year":2019,"month":1,"date":1,"utc":true},{"year":2019,"month":1,"date":16,"hours":12,"utc":true}],
"labelExpr":"utcdate(datum.value) == 1 ? utcFormat(datum.value, '%m-%Y') : ''",
"tickOpacity":{"condition":{"test":"utcdate(datum.value) == 1","value":1},"value":0},
"gridWidth":{"condition":{"test":"utcdate(datum.value) == 1","value":1.5},"value":0.75},
"titlePadding":3}},
"y":{"field":"valor","type":"quantitative","title":"Caudal (m³/s)",
"scale":{"domain":[-8,183],"nice":false,"zero":false},
"axis":{"values":[0,25,50,75,100,125,150,175],
"labelExpr":"datum.value % 50 == 0 ? format(datum.value, '.1f') : ''",
"tickOpacity":{"condition":{"test":"datum.value % 50 == 0","value":1},"value":0},
"gridWidth":{"condition":{"test":"datum.value % 50 == 0","value":1.5},"value":0.75},
"labelPadding":4,"titlePadding":9}},
"color":{"field":"serie","type":"nominal","scale":{"domain":["obs","sim"],"range":["#36648B","#FF6347"]},
"legend":{"legendX":1097,"legendY":21,"labelExpr":"datum.value == 'obs' ? 'Caudal observado' : 'Caudal simulado'",
"encode":{"symbols":{"update":{"fill":{"signal":"datum.value == 'obs' ? '#36648B' : '#FF6347'"},"stroke":{"signal":"datum.value == 'obs' ? '#36648B' : '#FF6347'"},"opacity":{"value":1}}}}}}
},
"layer":[
{"transform":[{"filter":"datum.serie == 'obs'"}],"mark":{"type":"line","strokeWidth":1.1}},
{"transform":[{"filter":"datum.serie == 'obs'"}],"mark":{"type":"point","filled":true,"opacity":1,"size":26}},
{"transform":[{"filter":"datum.serie == 'sim'"}],"mark":{"type":"line","strokeWidth":1.1}},
{"transform":[{"filter":"datum.serie == 'sim'"}],"mark":{"type":"point","filled":true,"opacity":1,"size":42}}
]
}
]},
{"spacing":0,"hconcat":[
{"width":1,"height":1,"data":{"values":[{"a":1}]},"mark":{"type":"point","opacity":0},"view":{"stroke":null}},
{
"width":1001,"height":65,
"title":{"text":"Rio Quepe En Vilcun"},
"data":{"name":"quepe"},
"transform":[{"fold":["obs","sim"],"as":["serie","valor"]}],
"encoding":{
"x":{"field":"t","type":"temporal","title":"Mes-Año",
"scale":{"type":"utc","domain":[{"year":2005,"month":12,"date":13,"hours":18,"utc":true},{"year":2007,"month":1,"date":18,"hours":6,"utc":true}]},
"axis":{"values":[{"year":2005,"month":12,"date":16,"hours":12,"utc":true},{"year":2006,"month":1,"date":1,"utc":true},{"year":2006,"month":1,"date":16,"hours":12,"utc":true},{"year":2006,"month":2,"date":1,"utc":true},{"year":2006,"month":2,"date":15,"utc":true},{"year":2006,"month":3,"date":1,"utc":true},{"year":2006,"month":3,"date":16,"hours":12,"utc":true},{"year":2006,"month":4,"date":1,"utc":true},{"year":2006,"month":4,"date":16,"utc":true},{"year":2006,"month":5,"date":1,"utc":true},{"year":2006,"month":5,"date":16,"hours":12,"utc":true},{"year":2006,"month":6,"date":1,"utc":true},{"year":2006,"month":6,"date":16,"utc":true},{"year":2006,"month":7,"date":1,"utc":true},{"year":2006,"month":7,"date":16,"hours":12,"utc":true},{"year":2006,"month":8,"date":1,"utc":true},{"year":2006,"month":8,"date":16,"hours":12,"utc":true},{"year":2006,"month":9,"date":1,"utc":true},{"year":2006,"month":9,"date":16,"utc":true},{"year":2006,"month":10,"date":1,"utc":true},{"year":2006,"month":10,"date":16,"hours":12,"utc":true},{"year":2006,"month":11,"date":1,"utc":true},{"year":2006,"month":11,"date":16,"utc":true},{"year":2006,"month":12,"date":1,"utc":true},{"year":2006,"month":12,"date":16,"hours":12,"utc":true},{"year":2007,"month":1,"date":1,"utc":true},{"year":2007,"month":1,"date":16,"hours":12,"utc":true}],
"labelExpr":"utcdate(datum.value) == 1 ? utcFormat(datum.value, '%m-%Y') : ''",
"tickOpacity":{"condition":{"test":"utcdate(datum.value) == 1","value":1},"value":0},
"gridWidth":{"condition":{"test":"utcdate(datum.value) == 1","value":1.5},"value":0.75},
"titlePadding":3}},
"y":{"field":"valor","type":"quantitative","title":"Caudal (m³/s)",
"scale":{"domain":[-12,247],"nice":false,"zero":false},
"axis":{"values":[0,25,50,75,100,125,150,175,200,225],
"labelExpr":"datum.value % 50 == 0 ? format(datum.value, '.1f') : ''",
"tickOpacity":{"condition":{"test":"datum.value % 50 == 0","value":1},"value":0},
"gridWidth":{"condition":{"test":"datum.value % 50 == 0","value":1.5},"value":0.75},
"labelPadding":4,"titlePadding":9}},
"color":{"field":"serie","type":"nominal","scale":{"domain":["obs","sim"],"range":["#36648B","#FF6347"]},
"legend":{"legendX":1097,"legendY":21,"labelExpr":"datum.value == 'obs' ? 'Caudal observado' : 'Caudal simulado'",
"encode":{"symbols":{"update":{"fill":{"signal":"datum.value == 'obs' ? '#36648B' : '#FF6347'"},"stroke":{"signal":"datum.value == 'obs' ? '#36648B' : '#FF6347'"},"opacity":{"value":1}}}}}}
},
"layer":[
{"transform":[{"filter":"datum.serie == 'obs'"}],"mark":{"type":"line","strokeWidth":1.1}},
{"transform":[{"filter":"datum.serie == 'obs'"}],"mark":{"type":"point","filled":true,"opacity":1,"size":26}},
{"transform":[{"filter":"datum.serie == 'sim'"}],"mark":{"type":"line","strokeWidth":1.1}},
{"transform":[{"filter":"datum.serie == 'sim'"}],"mark":{"type":"point","filled":true,"opacity":1,"size":42}}
]
}
]}
],
"resolve":{"scale":{"color":"independent","x":"independent","y":"independent"},"legend":{"color":"independent"}}
}
